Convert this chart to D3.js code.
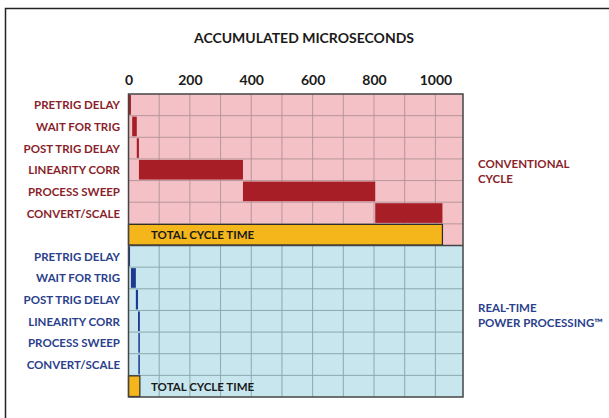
<!DOCTYPE html>
<html><head><meta charset="utf-8">
<script src="https://cdn.jsdelivr.net/npm/d3@7"></script>
<style>body{margin:0;background:#fff;} svg{display:block;}</style>
</head><body>
<svg id="c" width="609" height="418"></svg>
<script>
const categories = ["PRETRIG DELAY","WAIT FOR TRIG","POST TRIG DELAY","LINEARITY CORR","PROCESS SWEEP","CONVERT/SCALE"];
const conventionalStart = [0, 12, 27, 34, 373, 804];
const conventionalEnd   = [8, 27, 34, 373, 804, 1023];
const conventionalTotal = 1023;
const realtimeStart = [0, 8, 24, 31, 32, 32];
const realtimeEnd   = [5, 24, 31, 37, 37, 37];
const realtimeTotal = 37;
const xTicks = [0, 200, 400, 600, 800, 1000];
const gridTicks = [100,200,300,400,500,600,700,800,900,1000];
const title = "ACCUMULATED MICROSECONDS";
const totalLabel = "TOTAL CYCLE TIME";

const svg = d3.select("#c");
const font = "Lato, 'Liberation Sans', sans-serif";

// frame
svg.append("path").attr("d","M5.5,418 V8.5 H609").attr("fill","none").attr("stroke","#222").attr("stroke-width",1.5);

const x = d3.scaleLinear().domain([0,1090]).range([128.5,463]);
const rows = [];
categories.forEach((c,i)=>rows.push("c"+i)); rows.push("ct");
categories.forEach((c,i)=>rows.push("r"+i)); rows.push("rt");
const y = d3.scaleBand().domain(rows).range([94,397]).paddingInner(0);

const groups = [
  {key:"c", bg:"#f3c1c6", grid:"#b7979b", bar:"#a81e26", text:"#8a1f2b", starts:conventionalStart, ends:conventionalEnd, total:conventionalTotal,
   side:["CONVENTIONAL","CYCLE"], sideY:[168,183]},
  {key:"r", bg:"#c7e6ee", grid:"#8da7ae", bar:"#1f3990", text:"#2b3f8c", starts:realtimeStart, ends:realtimeEnd, total:realtimeTotal,
   side:["REAL-TIME","POWER PROCESSING\u2122"], sideY:[312,327]}
];

groups.forEach(g=>{
  const top = y(g.key+"0"), bot = y(g.key+"t")+y.bandwidth();
  svg.append("rect").attr("x",x(0)).attr("y",top).attr("width",x(1090)-x(0)).attr("height",bot-top).attr("fill",g.bg);
  svg.append("g").selectAll("line").data(gridTicks).join("line")
    .attr("x1",d=>x(d)).attr("x2",d=>x(d)).attr("y1",top).attr("y2",bot)
    .attr("stroke",g.grid).attr("stroke-width",1);
  svg.append("g").selectAll("line").data(categories.map((c,i)=>g.key+i).slice(1).concat([g.key+"t"])).join("line")
    .attr("x1",x(0)).attr("x2",x(1090)).attr("y1",d=>y(d)).attr("y2",d=>y(d))
    .attr("stroke",g.grid).attr("stroke-width",1);
  svg.append("g").selectAll("rect").data(categories).join("rect")
    .attr("x",(d,i)=>x(g.starts[i]))
    .attr("y",(d,i)=>y(g.key+i)+1)
    .attr("width",(d,i)=>x(g.ends[i])-x(g.starts[i]))
    .attr("height",y.bandwidth()-2)
    .attr("fill",g.bar);
  svg.append("rect").attr("x",x(0)).attr("y",y(g.key+"t")+0.5)
    .attr("width",x(g.total)-x(0)).attr("height",y.bandwidth()-1)
    .attr("fill","#f4b61b").attr("stroke","#2a2a2a").attr("stroke-width",1.2);
  svg.append("text").attr("x",151).attr("y",y(g.key+"t")+y.bandwidth()/2+4.5)
    .attr("font-family",font).attr("font-weight",700).attr("font-size",11.5).attr("fill","#1a1a1a").text(totalLabel);
  svg.append("g").selectAll("text").data(categories).join("text")
    .attr("x",120).attr("y",(d,i)=>y(g.key+i)+y.bandwidth()/2+4.5)
    .attr("text-anchor","end").attr("font-family",font).attr("font-weight",700).attr("font-size",11.5)
    .attr("fill",g.text).text(d=>d);
  svg.append("g").selectAll("text").data(g.side).join("text")
    .attr("x",478).attr("y",(d,i)=>g.sideY[i])
    .attr("font-family",font).attr("font-weight",700).attr("font-size",11.5)
    .attr("fill",g.text).text(d=>d);
});
svg.append("rect").attr("x",x(0)).attr("y",94).attr("width",x(1090)-x(0)).attr("height",397-94)
  .attr("fill","none").attr("stroke","#444").attr("stroke-width",1.5);
svg.append("line").attr("x1",x(0)).attr("x2",x(1090)).attr("y1",y("r0")).attr("y2",y("r0"))
  .attr("stroke","#444").attr("stroke-width",1.5);

const axis = d3.axisTop(x).tickValues(xTicks).tickFormat(d3.format("d")).tickSize(0).tickPadding(0);
const ag = svg.append("g").attr("transform","translate(0,85)").call(axis);
ag.select(".domain").remove();
ag.selectAll("text").attr("font-family",font).attr("font-weight",700).attr("font-size",14).attr("fill","#1a1a1a").attr("dy",0);

svg.append("text").attr("x",304).attr("y",43).attr("text-anchor","middle")
  .attr("font-family",font).attr("font-weight",700).attr("font-size",14).attr("fill","#1a1a1a").text(title);
</script>
</body></html>
